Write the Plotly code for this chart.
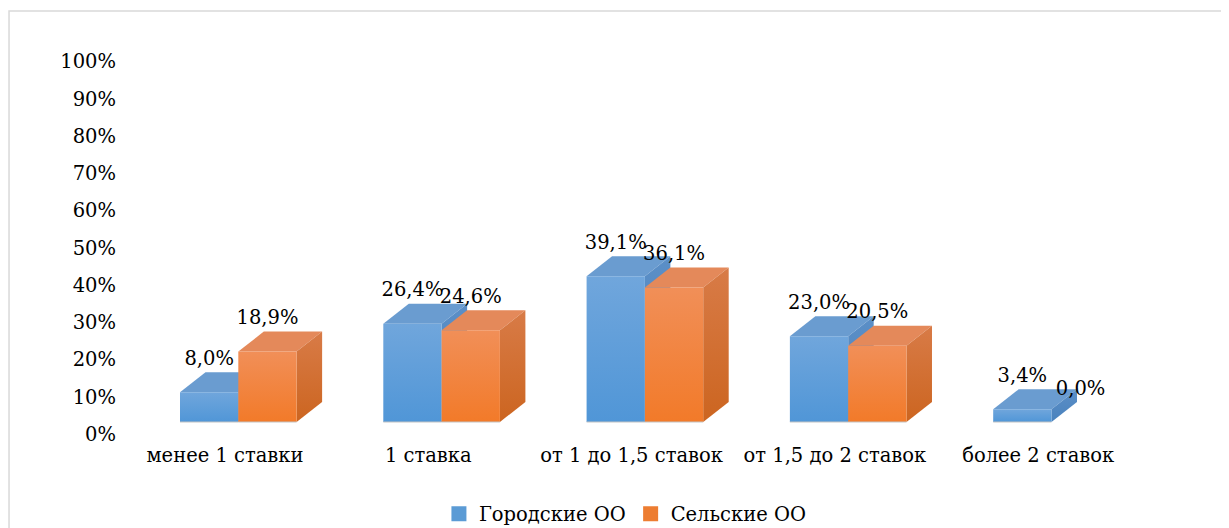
import plotly.graph_objects as go

categories = ["менее 1 ставки", "1 ставка", "от 1 до 1,5 ставок", "от 1,5 до 2 ставок", "более 2 ставок"]
urban = [8.0, 26.4, 39.1, 23.0, 3.4]
rural = [18.9, 24.6, 36.1, 20.5, 0.0]
series_names = ["Городские ОО", "Сельские ОО"]
y_ticks = [0, 10, 20, 30, 40, 50, 60, 70, 80, 90, 100]

# pseudo-3D geometry (axis units)
W = 0.2868      # bar front width
OFF = -0.2213   # left edge of first bar relative to category center
DX = 0.1254     # depth offset x
DY = 5.37       # depth offset y
BASE = 3.22     # front floor level

styles = [
    dict(front=("#5096d7", "#70a6dc"), top="#6a9cd0", side=("#4a82bd", "#5b8fc7"), legend="#5b9bd5"),
    dict(front=("#f27a29", "#f18f58"), top="#e4895a", side=("#cc6520", "#d87b47"), legend="#ed7d31"),
]

font = "DejaVu Serif"
FS = 19.5
fig = go.Figure()


def poly(xs, ys, **kw):
    fig.add_trace(go.Scatter(x=xs + [xs[0]], y=ys + [ys[0]], mode="lines", fill="toself",
                             line=dict(width=0), hoverinfo="skip", showlegend=False, **kw))


for i in range(len(categories)):
    for s, vals in enumerate([urban, rural]):
        v = vals[i]
        if v <= 0:
            continue
        st = styles[s]
        L = i + OFF + s * W
        R = L + W
        b = BASE
        t = BASE + v
        poly([L, R, R + DX, L + DX], [t, t, t + DY, t + DY], fillcolor=st["top"])
        poly([R, R + DX, R + DX, R], [b, b + DY, t + DY, t],
             fillgradient=dict(type="vertical", colorscale=[[0, st["side"][0]], [1, st["side"][1]]]))
        poly([L, R, R, L], [b, b, t, t],
             fillgradient=dict(type="vertical", colorscale=[[0, st["front"][0]], [1, st["front"][1]]]))
        fig.add_trace(go.Scatter(x=[L, R], y=[b, b], mode="lines", line=dict(color="#c4c4c4", width=1.2),
                                 hoverinfo="skip", showlegend=False))

# data labels
for s, vals in enumerate([urban, rural]):
    xs = [i + OFF + s * W + W / 2 for i in range(len(categories))]
    ys = [BASE + v + DY + 3.3 for v in vals]
    fig.add_trace(go.Scatter(x=xs, y=ys, mode="text",
                             text=[f"{v:.1f}%".replace(".", ",") for v in vals],
                             textposition="middle center",
                             textfont=dict(family=font, size=FS, color="#000000"),
                             hoverinfo="skip", showlegend=False))

# legend entries
for s, name in enumerate(series_names):
    fig.add_trace(go.Scatter(x=[None], y=[None], mode="markers", name=name,
                             marker=dict(symbol="square", size=15, color=styles[s]["legend"])))

fig.update_layout(
    width=1229, height=528,
    margin=dict(l=109, r=37, t=32, b=95, autoexpand=False),
    paper_bgcolor="white", plot_bgcolor="white",
    font=dict(family=font, size=FS, color="#000000"),
    xaxis=dict(range=[-0.5312, 4.796], tickmode="array", tickvals=list(range(len(categories))),
               ticktext=categories, showgrid=False, zeroline=False, showline=False,
               ticks="", tickfont=dict(family=font, size=FS)),
    yaxis=dict(range=[-1.879, 105.77], tickmode="array", tickvals=y_ticks,
               ticktext=[f"{v}%" for v in y_ticks], showgrid=False, zeroline=False, showline=False,
               ticks="", tickfont=dict(family=font, size=FS)),
    legend=dict(orientation="h", x=0.469, xanchor="center", y=-0.182, yanchor="middle",
                font=dict(family=font, size=FS), itemwidth=30),
    shapes=[dict(type="rect", xref="paper", yref="paper", x0=-0.0997, x1=1.05, y0=-0.4, y1=1.0723,
                 line=dict(color="#d9d9d9", width=1.5), layer="below")],
    hovermode=False,
)

fig.write_html("out.html")
